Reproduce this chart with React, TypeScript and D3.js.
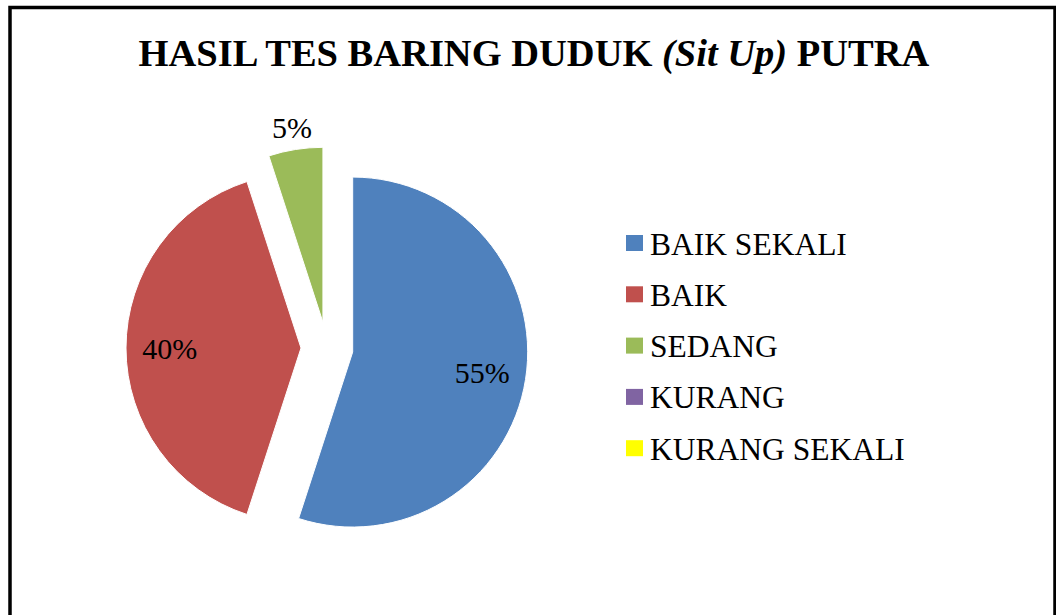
import React from "react";
import * as d3 from "d3";

const categories = ["BAIK SEKALI", "BAIK", "SEDANG", "KURANG", "KURANG SEKALI"];
const values = [55, 40, 5, 0, 0];
const labels = ["55%", "40%", "5%", "", ""];
const colors = ["#4F81BD", "#C0504D", "#9BBB59", "#8064A2", "#FFFF00"];

const W = 1056;
const H = 615;
const cx = 327;
const cy = 348;
const R = 175;
const explode = 26;

export default function App() {
  const pie = d3.pie<number>().sort(null).value((d) => d)(values);
  const arc = d3.arc<d3.PieArcDatum<number>>().innerRadius(0).outerRadius(R);
  const fontStyle = { fontFamily: "Liberation Serif, Times New Roman, Times, serif" };
  return (
    <svg
      width={W}
      height={H}
      style={{ position: "absolute", left: 0, top: 0, background: "#fff" }}
    >
      <rect x={10} y={7.5} width={1045} height={700} fill="#fff" stroke="#000" strokeWidth={3.5} />
      <text
        x={534}
        y={66}
        textAnchor="middle"
        style={fontStyle}
        fontWeight="bold"
        fontSize={38.5}
        fill="#000"
      >
        HASIL TES BARING DUDUK <tspan fontStyle="italic">(Sit Up)</tspan> PUTRA
      </text>
      {pie.map((p, i) => {
        if (p.value === 0) return null;
        const mid = (p.startAngle + p.endAngle) / 2;
        const ox = Math.sin(mid) * explode;
        const oy = -Math.cos(mid) * explode;
        const outside = p.endAngle - p.startAngle < 0.5;
        const lr = outside ? R + 22 : R * 0.75;
        const lx = Math.sin(mid) * lr;
        const ly = -Math.cos(mid) * lr;
        return (
          <g key={i} transform={`translate(${cx + ox},${cy + oy})`}>
            <path d={arc(p) || ""} fill={colors[i]} stroke="#fff" strokeWidth={1} />
            <text
              x={lx}
              y={ly}
              textAnchor="middle"
              dominantBaseline="central"
              style={fontStyle}
              fontSize={30}
              fill="#000"
            >
              {labels[i]}
            </text>
          </g>
        );
      })}
      {categories.map((c, i) => (
        <g key={c} transform={`translate(626,${243 + i * 51.3})`}>
          <rect x={0} y={-8} width={17} height={16} fill={colors[i]} />
          <text
            x={24}
            y={1}
            dominantBaseline="central"
            style={fontStyle}
            fontSize={31.5}
            fill="#000"
          >
            {c}
          </text>
        </g>
      ))}
    </svg>
  );
}
